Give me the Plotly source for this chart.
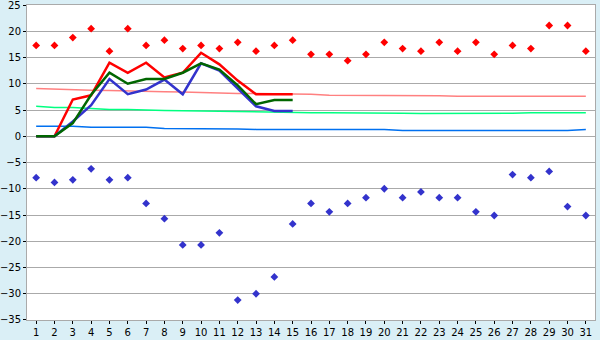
import plotly.graph_objects as go

days = list(range(1, 32))

# observed max (red diamonds) and min (blue diamonds)
max_pts = [17.3, 17.3, 18.8, 20.5, 16.2, 20.5, 17.3, 18.3, 16.7, 17.3,
           16.7, 17.9, 16.2, 17.3, 18.3, 15.6, 15.6, 14.4, 15.6, 17.9,
           16.7, 16.2, 17.9, 16.2, 17.9, 15.6, 17.3, 16.7, 21.1, 21.1, 16.2]
min_pts = [-7.9, -8.8, -8.3, -6.2, -8.3, -7.9, -12.8, -15.7, -20.7, -20.7,
           -18.4, -31.2, -30.0, -26.8, -16.7, -12.8, -14.4, -12.8, -11.7, -10.0,
           -11.7, -10.6, -11.7, -11.7, -14.4, -15.1, -7.3, -7.9, -6.7, -13.4, -15.1]

# first half lines
line_days = list(range(1, 16))
red_line = [0, 0, 7.0, 7.8, 14.0, 12.1, 14.0, 11.2, 12.1, 15.9, 13.7, 10.6, 8.0, 8.0, 8.0]
green_line = [0, 0, 2.5, 7.9, 12.1, 10.0, 10.9, 10.9, 12.1, 13.9, 12.7, 9.7, 6.1, 6.9, 6.9]
blue_line = [0, 0, 2.8, 5.9, 10.9, 8.0, 8.9, 10.8, 8.0, 13.9, 12.5, 9.1, 5.7, 4.8, 4.8]

# normals
normal_high = [9.1, 8.95, 8.9, 8.75, 8.7, 8.6, 8.6, 8.5, 8.45, 8.35,
               8.2, 8.15, 8.15, 8.1, 8.0, 8.0, 7.8, 7.8, 7.8, 7.8,
               7.75, 7.75, 7.7, 7.6, 7.6, 7.6, 7.6, 7.6, 7.6, 7.6, 7.6]
normal_mean = [5.7, 5.5, 5.5, 5.3, 5.1, 5.1, 4.95, 4.9, 4.85, 4.8,
               4.75, 4.7, 4.55, 4.5, 4.5, 4.5, 4.5, 4.5, 4.5, 4.45,
               4.4, 4.35, 4.35, 4.35, 4.35, 4.35, 4.4, 4.5, 4.5, 4.5, 4.5]
normal_low = [1.9, 1.9, 1.9, 1.7, 1.7, 1.7, 1.7, 1.5, 1.5, 1.5,
              1.5, 1.4, 1.3, 1.3, 1.3, 1.3, 1.3, 1.3, 1.3, 1.3,
              1.1, 1.1, 1.1, 1.1, 1.1, 1.1, 1.1, 1.1, 1.1, 1.1, 1.3]

y_ticks = list(range(-35, 30, 5))
y_top = 25

fig = go.Figure()
fig.add_trace(go.Scatter(x=days, y=normal_high, mode="lines",
                         line=dict(color="#FF8080", width=1.5), hoverinfo="skip"))
fig.add_trace(go.Scatter(x=days, y=normal_mean, mode="lines",
                         line=dict(color="#00FF80", width=1.5), hoverinfo="skip"))
fig.add_trace(go.Scatter(x=days, y=normal_low, mode="lines",
                         line=dict(color="#0070F0", width=1.5), hoverinfo="skip"))
fig.add_trace(go.Scatter(x=line_days, y=red_line, mode="lines",
                         line=dict(color="#FF0000", width=2.5)))
fig.add_trace(go.Scatter(x=line_days, y=blue_line, mode="lines",
                         line=dict(color="#3333CC", width=2.5)))
fig.add_trace(go.Scatter(x=line_days, y=green_line, mode="lines",
                         line=dict(color="#006600", width=2.5)))
fig.add_trace(go.Scatter(x=days, y=max_pts, mode="markers",
                         marker=dict(symbol="diamond", size=6, color="#FF0000")))
fig.add_trace(go.Scatter(x=days, y=min_pts, mode="markers",
                         marker=dict(symbol="diamond", size=6, color="#3333CC")))

fig.update_layout(
    width=600, height=340,
    margin=dict(l=27, r=5, t=5, b=20),
    paper_bgcolor="#DAEFF6",
    plot_bgcolor="#FFFFFF",
    showlegend=False,
    font=dict(family="DejaVu Sans", size=10, color="#000000"),
)
fig.update_xaxes(
    range=[0.5, 31.5], tickmode="array", tickvals=days,
    ticktext=[str(d) for d in days], automargin=False,
    tickfont=dict(size=10),
    showgrid=False, zeroline=False,
    showline=True, linecolor="#AAAAAA", linewidth=1, mirror=True,
    ticks="outside", ticklen=3, tickcolor="#000000",
)
fig.update_yaxes(
    range=[-35.001, 25.001], tickmode="array", tickvals=y_ticks, automargin=False,
    tickfont=dict(size=10),
    showgrid=True, gridcolor="#AAAAAA", gridwidth=1, zeroline=False,
    showline=True, linecolor="#AAAAAA", linewidth=1, mirror=True,
    ticks="outside", ticklen=3, tickcolor="#000000",
)
# top tick label (drawn as annotation, since plotly hides it at the page edge)
fig.add_annotation(x=0, xref="paper", y=y_top, yref="y", text=str(y_top),
                   showarrow=False, xanchor="right", yanchor="middle",
                   xshift=-4, font=dict(size=10, color="#000000"))

fig.write_html("out.html")
